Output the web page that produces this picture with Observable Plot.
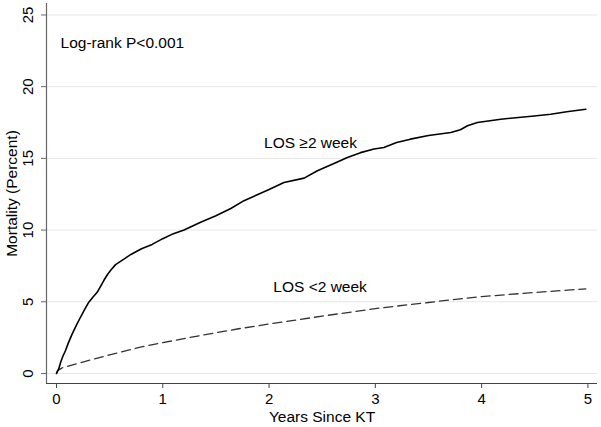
<!DOCTYPE html>
<html>
<head>
<meta charset="utf-8">
<script src="https://cdn.jsdelivr.net/npm/d3@7"></script>
<script src="https://cdn.jsdelivr.net/npm/@observablehq/plot@0.6"></script>
<style>
  html, body { margin: 0; padding: 0; background: #fff; }
</style>
</head>
<body>
<div id="chart"></div>
<script>
// Tick values
const xTicks = [0, 1, 2, 3, 4, 5];
const yTicks = [0, 5, 10, 15, 20, 25];

// LOS >= 2 week (solid)
const longX = [0, 0.02, 0.04, 0.06, 0.085, 0.11, 0.148, 0.19, 0.226, 0.26, 0.304, 0.34, 0.383, 0.445, 0.48, 0.51, 0.556, 0.62, 0.7, 0.8, 0.9, 1.0, 1.1, 1.2, 1.356, 1.5, 1.64, 1.764, 1.9, 2.0, 2.14, 2.33, 2.455, 2.6, 2.737, 2.86, 2.988, 3.08, 3.2, 3.33, 3.5, 3.71, 3.8, 3.867, 3.96, 4.18, 4.494, 4.65, 4.8, 4.98];
const longY = [0, 0.3, 0.8, 1.2, 1.6, 2.1, 2.76, 3.4, 3.92, 4.4, 4.97, 5.3, 5.66, 6.48, 6.9, 7.2, 7.59, 7.9, 8.3, 8.7, 9.0, 9.4, 9.75, 10.0, 10.54, 11.0, 11.5, 12.05, 12.5, 12.83, 13.32, 13.62, 14.14, 14.6, 15.06, 15.4, 15.65, 15.76, 16.1, 16.34, 16.6, 16.8, 17.0, 17.27, 17.5, 17.73, 17.96, 18.08, 18.25, 18.43];

// LOS < 2 week (dashed)
const shortX = [0, 0.01, 0.054, 0.2, 0.5, 0.8, 1.0, 1.356, 1.7, 2.0, 2.5, 3.05, 3.5, 3.71, 4.0, 4.5, 4.98];
const shortY = [0, 0.2, 0.39, 0.7, 1.3, 1.85, 2.15, 2.65, 3.1, 3.45, 4.0, 4.57, 4.95, 5.13, 5.36, 5.65, 5.9];

// Annotations
const pText = ["Log-rank P<0.001"];
const pX = [0.038];
const pY = [23.05];
const seriesText = ["LOS \u22652 week", "LOS <2 week"];
const seriesX = [2.39, 2.48];
const seriesY = [16.04, 6.0];

const longData = longX.map((x, i) => ({x, y: longY[i]}));
const shortData = shortX.map((x, i) => ({x, y: shortY[i]}));
const pNote = pText.map((t, i) => ({t, x: pX[i], y: pY[i]}));
const seriesNotes = seriesText.map((t, i) => ({t, x: seriesX[i], y: seriesY[i]}));

const xMin = -0.094, yMin = -0.7;
const font = "'Liberation Sans', Arial, Helvetica, sans-serif";

const chart = Plot.plot({
  width: 601,
  height: 427,
  marginLeft: 46,
  marginRight: 4,
  marginTop: 3,
  marginBottom: 44,
  x: {domain: [xMin, 5.09]},
  y: {domain: [yMin, 25.8]},
  style: {fontFamily: font, fontSize: "15px", background: "white", color: "black", overflow: "visible"},
  marks: [
    Plot.gridY(yTicks, {stroke: "#e6e6e6", strokeOpacity: 1}),
    Plot.ruleX([xMin], {stroke: "#666", strokeWidth: 1.2}),
    Plot.ruleY([yMin], {stroke: "#444", strokeWidth: 1.2}),
    Plot.axisY(yTicks, {tickSize: 5, tickFormat: () => "", label: null, stroke: "#666"}),
    Plot.text(yTicks, {y: d => d, frameAnchor: "left", dx: -18, rotate: -90, textAnchor: "middle", lineAnchor: "middle", text: d => String(d), fontSize: 15, fill: "black"}),
    Plot.axisX(xTicks, {tickSize: 5, tickPadding: 5, label: null, stroke: "#444", fontSize: 15, fill: "black"}),
    Plot.text(["Years Since KT"], {frameAnchor: "bottom", dy: 38, textAnchor: "middle", lineAnchor: "bottom", fontSize: 15.5, fill: "black"}),
    Plot.text(["Mortality (Percent)"], {frameAnchor: "left", dx: -34, rotate: -90, textAnchor: "middle", lineAnchor: "middle", fontSize: 15.5, fill: "black"}),
    Plot.line(shortData, {x: "x", y: "y", stroke: "#333", strokeWidth: 1.3, strokeDasharray: "9,5"}),
    Plot.line(longData, {x: "x", y: "y", stroke: "black", strokeWidth: 1.6}),
    Plot.text(pNote, {x: "x", y: "y", text: "t", textAnchor: "start", fontSize: 15.5, fill: "black", lineAnchor: "middle"}),
    Plot.text(seriesNotes, {x: "x", y: "y", text: "t", textAnchor: "middle", fontSize: 15.5, fill: "black", lineAnchor: "middle"})
  ]
});
document.getElementById("chart").appendChild(chart);
</script>
</body>
</html>
